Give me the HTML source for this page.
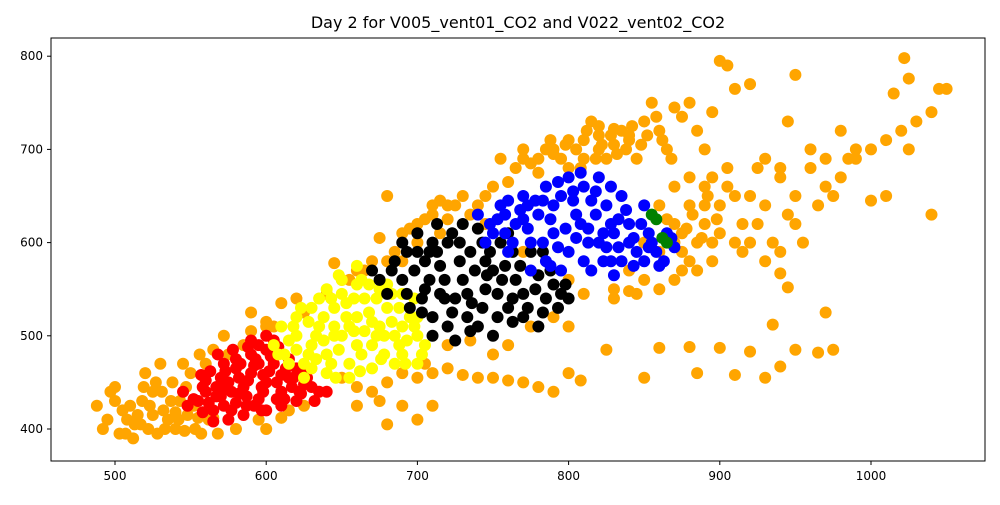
<!DOCTYPE html>
<html><head><meta charset="utf-8"><style>
body{margin:0;background:#fff;font-family:"Liberation Sans","DejaVu Sans",sans-serif;}
svg text{font-family:"DejaVu Sans","Liberation Sans",sans-serif;}
</style></head><body>
<svg id="chart" width="1000" height="500" xmlns="http://www.w3.org/2000/svg">
<rect width="1000" height="500" fill="#fff"/>
<text x="518" y="28" font-size="16" text-anchor="middle">Day 2 for V005_vent01_CO2 and V022_vent02_CO2</text>
<g id="marks"></g>
<rect x="51" y="38" width="934" height="423" fill="none" stroke="#000" stroke-width="1"/>
<g id="axes"></g>
</svg>
<script>
const xTicks=[500,600,700,800,900,1000];
const yTicks=[400,500,600,700,800];
const orangePts=[488,425,492,400,497,440,500,445,503,395,505,420,508,410,512,390,515,415,518,430,522,400,525,440,528,395,532,420,535,410,538,450,540,400,543,430,545,470,548,415,550,460,553,400,556,480,560,470,565,485,568,395,572,500,575,480,580,400,585,490,590,505,600,515,605,510,520,460,530,470,525,415,540,418,555,412,565,412,595,410,610,412,625,425,615,420,600,400,
590,525,600,510,610,535,620,540,625,525,640,545,645,578,655,560,665,570,675,605,680,650,690,610,700,620,710,630,715,645,720,640,730,650,740,640,745,620,750,660,760,665,765,680,770,690,780,675,790,700,800,680,810,710,815,730,820,700,825,690,830,705,835,720,840,710,845,690,850,730,855,750,860,720,865,700,870,745,875,735,880,750,885,720,890,700,895,740,900,795,905,790,910,765,920,770,930,690,940,680,945,730,950,780,960,700,970,690,980,720,990,700,1000,700,1010,710,1020,720,1025,700,1030,730,1040,740,1045,765,1050,765,1022,798,1025,776,1015,760,1040,630,1010,650,1000,645,
830,550,840,570,845,545,850,560,860,550,870,560,880,580,885,600,890,620,895,580,900,640,905,660,910,600,915,620,920,650,925,680,930,640,935,600,940,670,945,630,950,650,955,600,960,680,965,640,970,660,975,650,980,670,985,690,990,690,870,620,875,590,880,640,890,660,900,610,910,650,860,640,870,660,880,670,895,670,920,600,930,580,940,590,950,620,905,680,915,590,925,620,890,640,860,590,850,600,875,610,
650,455,660,445,670,440,680,450,690,460,700,455,705,470,710,460,720,465,730,458,740,455,750,455,760,452,770,450,780,445,790,440,800,460,808,452,690,425,700,410,710,425,680,405,660,425,675,430,720,490,735,495,750,480,760,490,775,510,790,520,800,510,825,485,850,455,860,487,880,488,885,460,900,487,910,458,920,483,930,455,940,467,950,485,965,482,975,485,935,512,945,552,940,567,970,525,830,540,840,548,810,545,770,590,800,560,700,600,690,580,680,580,685,590,670,580,660,570,710,640,720,625,650,560,755,690,770,700,790,695,800,710,810,690,820,715,830,722,840,715,775,685,
780,690,785,700,795,690,805,700,812,720,818,690,822,705,828,715,832,695,838,700,842,725,848,705,852,715,858,735,862,710,868,690,820,725,808,680,798,705,788,710,
495,410,500,430,507,395,510,425,517,405,523,425,527,450,533,400,537,430,542,410,547,445,552,425,557,395,562,410,546,398,531,440,519,445,513,405,
870,600,878,615,882,630,888,605,892,650,898,625,875,570,885,570,865,625,895,600,695,615,705,625,725,640,735,630,715,610,745,650];
const redPts=[548,425,555,430,560,440,565,420,570,435,575,450,580,428,585,445,590,460,595,432,600,450,605,470,610,440,615,455,620,465,625,448,630,445,635,440,590,480,600,485,595,470,580,465,570,455,560,452,585,415,600,420,610,425,620,430,575,410,565,408,590,495,605,495,580,475,615,475,625,460,572,470,558,445,545,440,640,440,598,440,610,458,588,452,595,490,
552,432,558,418,562,428,567,445,572,425,577,440,582,455,587,435,592,425,597,445,602,462,607,450,612,432,617,445,622,440,627,455,632,430,563,462,568,480,573,462,578,485,583,470,588,488,593,475,598,458,603,478,608,488,613,465,618,455,623,438,587,425,597,420,607,432,577,420,567,435,557,458,600,500,592,468,582,438,572,445];
const yellowPts=[612,480,620,500,625,470,630,490,635,510,640,480,645,530,650,500,655,470,660,520,665,540,670,490,675,510,680,530,685,500,690,480,695,520,700,500,640,550,650,545,660,555,630,530,620,520,615,495,625,455,640,460,655,455,670,465,685,470,700,470,705,490,645,510,660,490,675,550,635,540,610,510,605,490,690,545,680,555,650,560,665,505,700,520,690,510,630,465,
615,470,620,485,628,480,633,500,638,495,643,470,648,485,653,520,658,505,663,480,668,525,673,500,678,480,683,515,688,530,693,495,698,510,703,480,643,540,653,535,663,560,648,565,638,520,628,515,618,510,658,540,673,540,683,545,668,555,678,500,688,490,698,540,608,480,623,530,633,475,646,455,662,462,676,475,692,470,660,575,645,500,655,510,670,515];
const blackPts=[670,570,680,545,685,580,690,560,695,530,700,590,705,550,710,520,715,575,720,600,725,540,730,560,735,590,740,510,745,550,750,570,755,600,760,530,765,560,770,545,775,590,780,510,785,540,790,555,795,545,750,500,735,505,720,510,710,500,700,610,740,615,760,610,725,495,705,580,715,545,745,580,770,520,780,565,690,600,800,540,710,600,730,620,
675,560,683,570,693,545,698,570,703,540,708,560,713,590,718,560,723,525,728,580,733,545,738,570,743,530,748,590,753,545,758,575,763,540,768,575,773,530,778,550,783,525,788,570,793,530,798,555,728,600,718,540,703,525,733,520,753,520,763,515,743,600,763,590,783,590,708,590,693,590,713,620,723,610,756,560,736,535,746,565];
const bluePts=[740,630,750,610,755,640,760,590,765,620,770,650,775,600,780,630,785,580,790,610,795,650,800,590,805,630,810,660,815,570,820,600,825,640,830,610,835,580,840,620,845,590,850,640,855,600,860,575,865,610,870,595,800,670,785,660,820,670,815,645,830,565,810,580,795,570,775,570,760,645,745,600,835,650,850,580,825,595,840,600,805,605,790,640,770,625,
748,620,753,625,758,610,763,600,768,635,773,615,778,645,783,600,788,625,793,595,798,615,803,645,808,620,813,600,818,630,823,580,828,620,833,595,838,635,843,605,848,620,853,595,858,590,863,580,808,675,818,655,828,660,803,655,813,615,823,610,833,625,843,575,853,610,868,605,793,665,783,645,773,640,758,630,788,575,828,580];
const greenPts=[855,630,858,625,862,605,865,600];
const series=[["orange",orangePts,"orange"],["red",redPts,"red"],["yellow",yellowPts,"yellow"],["black",blackPts,"black"],["blue",bluePts,"blue"],["green",greenPts,"green"]];
function xs(v){return 115+(v-500)*1.512;}
function ys(v){return 429-(v-400)*0.932;}
const NS="http://www.w3.org/2000/svg";
const marks=document.getElementById('marks');
series.forEach(s=>{
  const g=document.createElementNS(NS,'g');
  
  
  const d=s[1];
  for(let i=0;i<d.length;i+=2){
    const c=document.createElementNS(NS,'circle');
    c.setAttribute('cx',xs(d[i]));c.setAttribute('cy',ys(d[i+1]));c.setAttribute('r',6);
    c.setAttribute('fill',s[2]);
    
    
    g.appendChild(c);
  }
  marks.appendChild(g);
});
const ax=document.getElementById('axes');
xTicks.forEach(t=>{
  const l=document.createElementNS(NS,'line');
  l.setAttribute('x1',xs(t));l.setAttribute('x2',xs(t));l.setAttribute('y1',461);l.setAttribute('y2',465);l.setAttribute('stroke','#000');
  
  
  ax.appendChild(l);
  const tx=document.createElementNS(NS,'text');
  tx.setAttribute('x',xs(t));tx.setAttribute('y',480);tx.setAttribute('font-size','12');tx.setAttribute('text-anchor','middle');
  tx.textContent=t;
  
  
  ax.appendChild(tx);
});
yTicks.forEach(t=>{
  const l=document.createElementNS(NS,'line');
  l.setAttribute('x1',47);l.setAttribute('x2',51);l.setAttribute('y1',ys(t));l.setAttribute('y2',ys(t));l.setAttribute('stroke','#000');
  
  
  ax.appendChild(l);
  const tx=document.createElementNS(NS,'text');
  tx.setAttribute('x',43);tx.setAttribute('y',ys(t)+4);tx.setAttribute('font-size','12');tx.setAttribute('text-anchor','end');
  tx.textContent=t;
  
  
  ax.appendChild(tx);
});
</script>
</body></html>
